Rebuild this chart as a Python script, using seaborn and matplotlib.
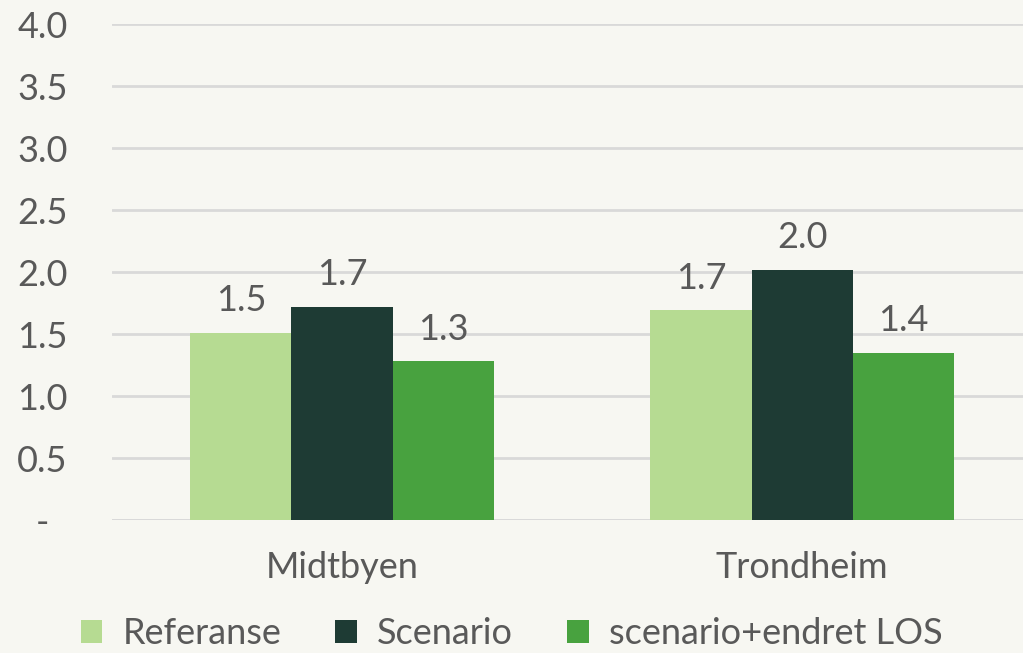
import matplotlib
matplotlib.use("Agg")
import matplotlib.pyplot as plt
import seaborn as sns
import pandas as pd
from matplotlib.patches import Patch

categories = ["Midtbyen", "Trondheim"]
series = ["Referanse", "Scenario", "scenario+endret LOS"]
referanse = [1.51, 1.69]
scenario = [1.72, 2.02]
los = [1.28, 1.35]
colors = ["#b6db92", "#1e3b34", "#48a23f"]
yticks = [0, 0.5, 1.0, 1.5, 2.0, 2.5, 3.0, 3.5, 4.0]
ytick_labels = ["-", "0.5", "1.0", "1.5", "2.0", "2.5", "3.0", "3.5", "4.0"]

rows = []
for s, vals in zip(series, [referanse, scenario, los]):
    for c, v in zip(categories, vals):
        rows.append({"cat": c, "series": s, "value": v})
df = pd.DataFrame(rows)

sns.set_theme(style="white")
plt.rcParams["font.family"] = ["Lato", "DejaVu Sans"]
bg = "#f7f7f2"
txt = "#595959"
fs = 26

fig = plt.figure(figsize=(10.23, 6.53), dpi=100, facecolor=bg)
ax = fig.add_axes([112 / 1023, 133 / 653, (1023 - 112) / 1023, 496 / 653])
ax.set_facecolor(bg)

sns.barplot(data=df, x="cat", y="value", hue="series", hue_order=series,
            order=categories, palette=colors, width=0.66, saturation=1,
            edgecolor="none", linewidth=0, ax=ax, legend=False, errorbar=None)

for cont in ax.containers:
    ax.bar_label(cont, labels=[f"{b.get_height():.1f}" for b in cont],
                 padding=11, fontsize=fs, color=txt)

ax.set_ylim(0, 4)
ax.set_xlim(-0.5, 1.48)
ax.set_yticks(yticks)
ax.set_yticklabels(ytick_labels)
ax.yaxis.grid(True, color="#d9d9d9", linewidth=2)
ax.set_axisbelow(True)
for sp in ax.spines.values():
    sp.set_visible(False)
ax.axhline(0, color="#d9d9d9", linewidth=2, zorder=0.5)
ax.tick_params(axis="y", labelsize=fs, labelcolor=txt, length=0, pad=50)
ax.tick_params(axis="x", labelsize=fs, labelcolor=txt, length=0, pad=22)
for lab in ax.get_yticklabels():
    lab.set_horizontalalignment("center")
ax.set_xlabel("")
ax.set_ylabel("")

handles = [Patch(facecolor=c, edgecolor="none") for c in colors]
leg = fig.legend(handles, series, loc="lower center", bbox_to_anchor=(0.5, -0.045),
                 ncol=3, frameon=False, fontsize=fs, handlelength=0.6,
                 handleheight=0.6, handletextpad=0.55, columnspacing=1.5)
for t in leg.get_texts():
    t.set_color(txt)

fig.savefig("out.png", dpi=100, facecolor=bg)
